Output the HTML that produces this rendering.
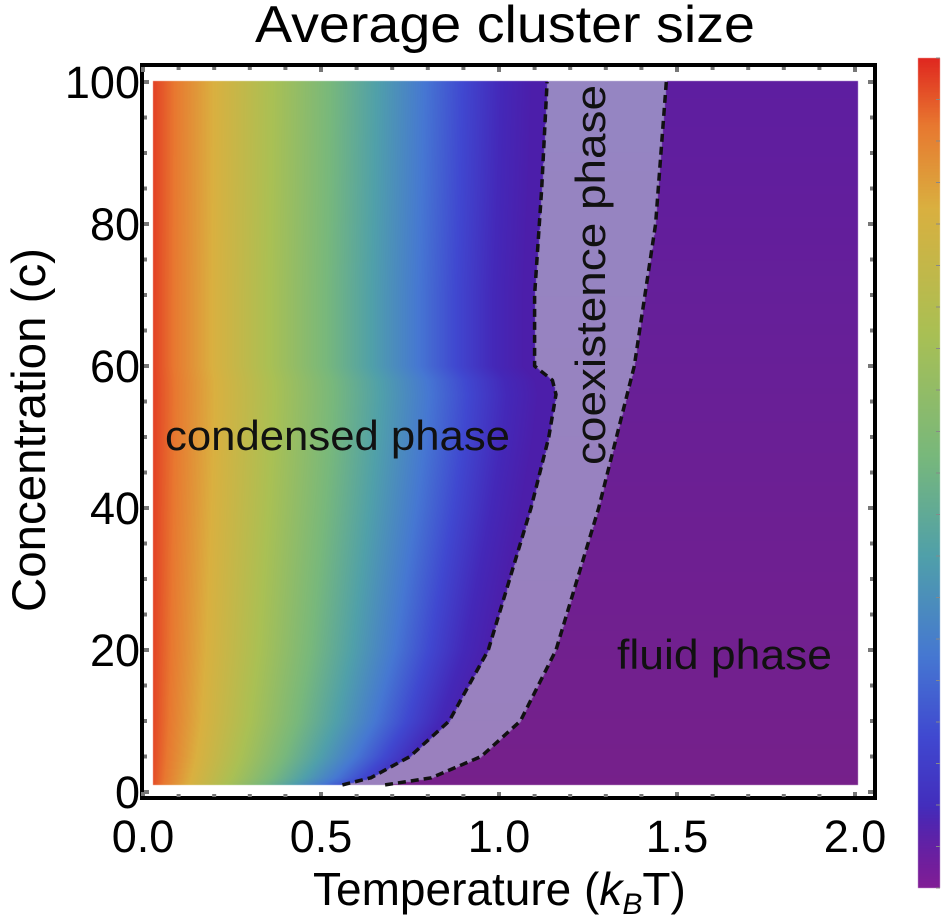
<!DOCTYPE html>
<html><head><meta charset="utf-8"><style>
html,body{margin:0;padding:0;background:#fff;}
#wrap{position:relative;width:946px;height:922px;overflow:hidden;font-family:"Liberation Sans",sans-serif;}
canvas,svg{position:absolute;left:0;top:0;}
</style></head><body>
<div id="wrap">
<canvas id="heat" width="946" height="922"></canvas>
<svg id="ov" width="946" height="922"></svg>
</div>
<script>
// boundary data (temperature, concentration)
const leftT = [0.56,0.64,0.75,0.86,0.97,1.03,1.09,1.14,1.16,1.15,1.10,1.10,1.12,1.135];
const leftC = [1,2,5,10,20,30,40,50,56,58,60,70,85,100];
const rightT = [0.68,0.81,0.95,1.06,1.16,1.28,1.38,1.44,1.47];
const rightC = [1,2,5,10,20,40,60,80,100];
const xTicks = [0.0,0.5,1.0,1.5,2.0];
const xTickLabels = ["0.0","0.5","1.0","1.5","2.0"];
const yTicks = [0,20,40,60,80,100];
const yTickLabels = ["0","20","40","60","80","100"];

const X0=143, XS=356, Y0=792, YS=7.1;
function sx(t){return X0+t*XS;}
function sy(c){return Y0-c*YS;}
function interp(cs,ts,c){
  if(c<=cs[0])return ts[0];
  for(let i=1;i<cs.length;i++){if(c<=cs[i]){const f=(c-cs[i-1])/(cs[i]-cs[i-1]);return ts[i-1]+f*(ts[i]-ts[i-1]);}}
  return ts[ts.length-1];
}
const stops=[[0,[224,40,32]],[0.08,[232,120,48]],[0.18,[218,176,64]],[0.33,[170,192,84]],[0.48,[120,184,124]],[0.6,[80,160,170]],[0.72,[70,120,210]],[0.82,[64,72,208]],[0.92,[68,40,184]],[1.0,[76,30,170]]];
function cmap(u){
  u=Math.max(0,Math.min(1,u));
  for(let i=1;i<stops.length;i++){if(u<=stops[i][0]){const a=stops[i-1],b=stops[i];const f=(u-a[0])/(b[0]-a[0]);return a[1].map((v,k)=>v+f*(b[1][k]-v));}}
  return stops[stops.length-1][1];
}
const cv=document.getElementById('heat');const ctx=cv.getContext('2d');
const px0=153,px1=858,py0=81,py1=785;
const img=ctx.createImageData(px1-px0,py1-py0);
for(let y=py0;y<py1;y++){
  const c=(Y0-y)/YS;
  const tl=interp(leftC,leftT,c), tr=interp(rightC,rightT,c);
  for(let x=px0;x<px1;x++){
    const t=(x-X0)/XS;let col;
    if(t<tl){col=cmap(t/(0.3+0.7*tl));}
    else if(t<tr){col=[154-c*0.05,128+c*0.05,190+c*0.04];}
    else{const f=c/100;col=[118-f*24,32-f*2,138+f*22];}
    const i=((y-py0)*(px1-px0)+(x-px0))*4;
    img.data[i]=col[0];img.data[i+1]=col[1];img.data[i+2]=col[2];img.data[i+3]=255;
  }
}
ctx.putImageData(img,px0,py0);
// colorbar: red top -> purple bottom
for(let y=58;y<888;y++){const u=(y-58)/830;let col=cmap(u);if(u>0.9){const f=(u-0.9)/0.1;col=[col[0]+f*(130-col[0]),col[1]+f*(30-col[1]),col[2]+f*(150-col[2])];}ctx.fillStyle=`rgb(${col[0]|0},${col[1]|0},${col[2]|0})`;ctx.fillRect(918,y,22,1);}

const NS='http://www.w3.org/2000/svg';const svg=document.getElementById('ov');
function el(tag,attrs){const e=document.createElementNS(NS,tag);for(const k in attrs)e.setAttribute(k,attrs[k]);svg.appendChild(e);return e;}
function pathFrom(ts,cs){return ts.map((t,i)=>(i?'L':'M')+sx(t).toFixed(1)+','+sy(cs[i]).toFixed(1)).join(' ');}
const lb=el('path',{d:pathFrom(leftT,leftC),fill:'none',stroke:'#111','stroke-width':3.5,'stroke-dasharray':'8,5','stroke-linejoin':'round'});


const rb=el('path',{d:pathFrom(rightT,rightC),fill:'none',stroke:'#111','stroke-width':3.5,'stroke-dasharray':'8,5','stroke-linejoin':'round'});


// frame
const fr=el('rect',{x:142,y:65,width:733,height:733,fill:'none',stroke:'#000','stroke-width':4});


for(let k=0;k<=20;k++){const x=sx(k*0.1);const big=k%5===0;
  el('rect',{x:x-2,y:796-(big?4:2),width:4,height:big?4:3,fill:'#777'});
  el('rect',{x:x-2,y:67,width:4,height:big?5:3,fill:'#777'});}
for(let k=0;k<=20;k++){const y=sy(k*5);const big=k%4===0;
  el('rect',{x:144,y:y-2,width:big?5:3,height:4,fill:'#777'});
  el('rect',{x:873-(big?5:3),y:y-2,width:big?5:3,height:4,fill:'#777'});}
xTicks.forEach((v,i)=>{const t=el('text',{x:sx(v),y:852,'font-size':45,'text-anchor':'middle',fill:'#000'});t.textContent=xTickLabels[i];
  
  });
yTicks.forEach((v,i)=>{const t=el('text',{x:140,y:sy(v)+16,'font-size':45,'text-anchor':'end',fill:'#000'});t.textContent=yTickLabels[i];
  
  });
const ti=el('text',{x:255,y:42,'font-size':52,textLength:500,lengthAdjust:'spacingAndGlyphs'});ti.textContent='Average cluster size';


const xl=el('text',{x:313,y:905,'font-size':46});
xl.innerHTML='Temperature (<tspan font-style="italic">k</tspan><tspan font-style="italic" font-size="30" dy="9">B</tspan><tspan dy="-9">T)</tspan>';


const yl=el('text',{x:0,y:0,'font-size':47,'text-anchor':'middle',transform:'translate(45,430) rotate(-90)',textLength:364,lengthAdjust:'spacingAndGlyphs'});yl.textContent='Concentration (c)';


const l1=el('text',{x:165,y:450,'font-size':42,fill:'#111',textLength:345,lengthAdjust:'spacingAndGlyphs'});l1.textContent='condensed phase';


const l2=el('text',{x:0,y:0,'font-size':42,fill:'#111',transform:'translate(605,465) rotate(-90)',textLength:380,lengthAdjust:'spacingAndGlyphs'});l2.textContent='coexistence phase';


const l3=el('text',{x:617,y:669,'font-size':42,fill:'#111',textLength:215,lengthAdjust:'spacingAndGlyphs'});l3.textContent='fluid phase';


const cb=el('rect',{x:918,y:58,width:22,height:830,fill:'none'});


for(let k=0;k<=20;k++){el('line',{x1:936,x2:940,y1:58+k*41.5,y2:58+k*41.5,stroke:'#888','stroke-width':1});}
</script>
</body></html>
